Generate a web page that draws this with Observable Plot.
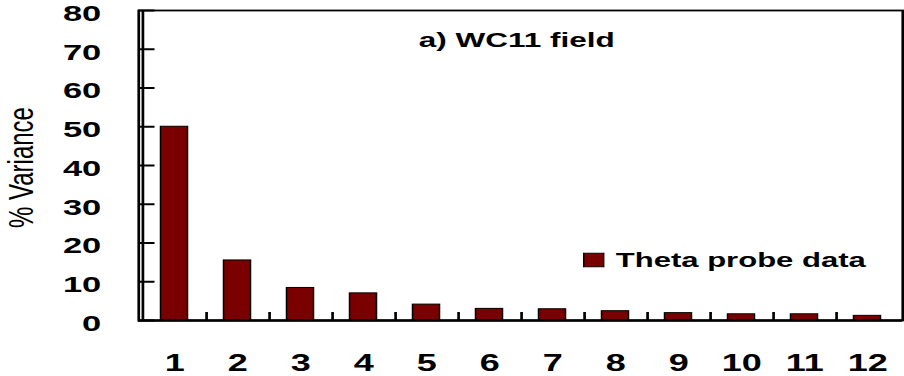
<!DOCTYPE html>
<html>
<head>
<meta charset="utf-8">
<script src="https://cdn.jsdelivr.net/npm/d3@7"></script>
<script src="https://cdn.jsdelivr.net/npm/@observablehq/plot@0.6"></script>
<style>
  html, body { margin: 0; padding: 0; background: #fff; }
  #chart { width: 904px; height: 376px; overflow: hidden; }
</style>
</head>
<body>
<div id="chart"></div>
<script>
// Principal components and the share of variance each one explains
const components = [1, 2, 3, 4, 5, 6, 7, 8, 9, 10, 11, 12];
const variance = [50.0, 15.5, 8.4, 7.0, 4.1, 3.0, 2.9, 2.4, 1.9, 1.6, 1.6, 1.2];
const yTicks = [0, 10, 20, 30, 40, 50, 60, 70, 80];
const seriesName = "Theta probe data";
const title = "a) WC11 field";
const yLabel = "% Variance";

const data = components.map((c, i) => ({component: c, variance: variance[i]}));

// The figure is laid out in a narrower coordinate system and then widened
// horizontally, which gives the broad, flattened lettering of the original.
const stretch = 1.5;
const outW = 904, outH = 376;
const W = outW / stretch;
const marginLeft = 138 / stretch;
const marginRight = W - 902 / stretch;
const marginTop = 10, marginBottom = 56;
const plotW = W - marginLeft - marginRight;
const plotH = outH - marginTop - marginBottom;
const step = plotW / components.length;

const font = "'Liberation Sans', Arial, Helvetica, sans-serif";
const barFill = "#7a0000";

const svg = Plot.plot({
  width: W,
  height: outH,
  marginLeft, marginRight, marginTop, marginBottom,
  style: {fontFamily: font, fontWeight: "bold", color: "#000", background: "#fff"},
  x: {type: "band", domain: components, paddingInner: 0.575, paddingOuter: 0.2875},
  y: {domain: [0, 80]},
  marks: [
    Plot.barY(data, {x: "component", y: "variance", fill: barFill, stroke: "#000", strokeWidth: 1}),
    // short inward ticks on the value axis
    Plot.ruleY(yTicks, {stroke: "#000", strokeWidth: 2, insetRight: plotW - 11}),
    // small upward ticks between the categories
    Plot.ruleX(components.slice(0, -1), {x: d => d, dx: step / 2, stroke: "#000", strokeWidth: 1.8, insetTop: plotH - 8}),
    Plot.frame({stroke: "#000", strokeWidth: 1.8}),
    Plot.ruleY([0], {stroke: "#000", strokeWidth: 2.6}),
    Plot.ruleX([components[0]], {dx: -step / 2, stroke: "#000", strokeWidth: 1.8}),
    Plot.axisY({ticks: yTicks, tickSize: 0, tickPadding: 25, fontSize: 23, fontWeight: "bold", dy: 3, label: null}),
    Plot.axisX({tickSize: 0, tickPadding: 33, fontSize: 24, fontWeight: "bold", label: null}),
    Plot.text([yLabel], {frameAnchor: "left", textAnchor: "middle", lineAnchor: "middle", dx: 13.7 - marginLeft, dy: 2, rotate: -90, fontSize: 24, fontWeight: "normal", text: d => d}),
    Plot.text([title], {frameAnchor: "top-left", textAnchor: "middle", lineAnchor: "middle", dx: 344 - marginLeft, dy: 30, fontSize: 21, fontWeight: "bold", text: d => d}),
    // legend
    Plot.dot([seriesName], {frameAnchor: "top-left", dx: 303.3, dy: 249.5, symbol: "square", r: 7.5, fill: barFill, stroke: "#000", strokeWidth: 1}),
    Plot.text([seriesName], {frameAnchor: "top-left", textAnchor: "start", lineAnchor: "middle", dx: 318, dy: 249.5, fontSize: 20.7, fontWeight: "bold", text: d => d})
  ]
});

svg.setAttribute("width", outW);
svg.setAttribute("height", outH);
svg.setAttribute("preserveAspectRatio", "none");
svg.style.width = outW + "px";
svg.style.height = outH + "px";
svg.style.maxWidth = "none";
document.getElementById("chart").appendChild(svg);
</script>
</body>
</html>
